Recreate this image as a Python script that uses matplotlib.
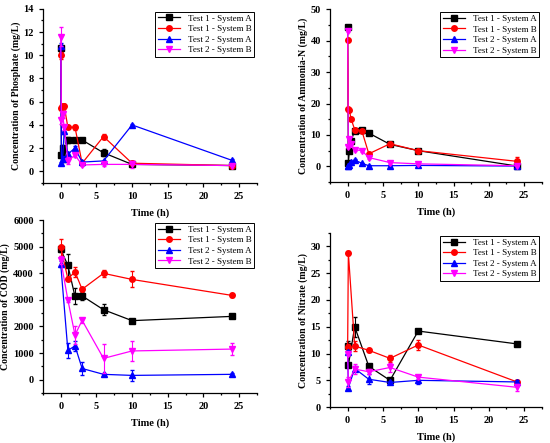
import matplotlib
matplotlib.use("Agg")
import matplotlib.pyplot as plt
from matplotlib.ticker import MultipleLocator

plt.rcParams['font.family'] = ['Liberation Serif', 'DejaVu Serif']

labels = ["Test 1 - System A", "Test 1 - System B", "Test 2 - System A", "Test 2 - System B"]
colors = ["black", "#ff0000", "#0000ff", "#ff00ff"]
markers = ["s", "o", "^", "v"]

# phosphate
t_p = [0, 0.1, 0.25, 0.5, 1, 2, 3, 6, 10, 24]
p_1a = [10.6, 1.4, 2.0, 1.1, 2.7, 2.7, 2.7, 1.6, 0.6, 0.5]
p_1b = [10.0, 5.5, 5.6, 5.6, 3.8, 3.8, 0.7, 3.0, 0.7, 0.5]
p_2a = [10.8, 0.7, 1.1, 3.5, 1.5, 2.0, 0.8, 0.9, 4.0, 0.95]
p_2b = [11.6, 4.4, 4.9, 3.8, 0.9, 1.4, 0.55, 0.6, 0.6, 0.5]
pe_1a = [0.3, 0.2, 0.3, 0.2, 0.3, 0.2, 0.1, 0.3, 0.1, 0.05]
pe_1b = [0.3, 0.2, 0.2, 0.2, 0.1, 0.2, 0.1, 0.2, 0.1, 0.05]
pe_2a = [0.3, 0.1, 0.2, 0.3, 0.2, 0.2, 0.1, 0.1, 0.1, 0.1]
pe_2b = [0.8, 0.3, 0.3, 0.2, 0.3, 0.2, 0.1, 0.1, 0.3, 0.05]

# ammonia
t_a = [0, 0.1, 0.25, 0.5, 1, 2, 3, 6, 10, 24]
a_1a = [44.3, 1.0, 5.0, 8.2, 11.4, 11.5, 10.6, 7.0, 5.0, 0.1]
a_1b = [40.3, 18.4, 17.8, 15.0, 11.7, 11.4, 4.0, 7.2, 5.0, 1.6]
a_2a = [0.1, 0.1, 0.5, 1.4, 2.0, 1.0, 0.2, 0.2, 0.3, 0.1]
a_2b = [43.2, 6.2, 8.7, 7.0, 5.3, 5.0, 2.8, 1.2, 0.8, 0.2]
ae_1a = [0.4, 0.2, 0.3, 0.4, 0.3, 0.3, 0.3, 0.3, 0.2, 0.1]
ae_1b = [0.4, 0.3, 0.3, 0.3, 0.3, 0.3, 0.3, 0.4, 0.2, 1.3]
ae_2a = [0.1, 0.1, 0.1, 0.2, 0.2, 0.2, 0.1, 0.1, 0.1, 0.1]
ae_2b = [0.4, 0.4, 0.4, 0.3, 0.3, 0.3, 0.3, 0.3, 0.3, 0.1]

# COD
t_c = [0, 1, 2, 3, 6, 10, 24]
c_1a = [4900, 4300, 3130, 3150, 2630, 2220, 2380]
c_1b = [4980, 3800, 4050, 3400, 4000, 3770, 3170]
c_2a = [4340, 1100, 1270, 420, 200, 160, 200]
c_2b = [4500, 3000, 1680, 2230, 800, 1080, 1150]
ce_1a = [100, 420, 300, 150, 200, 50, 50]
ce_1b = [330, 60, 170, 60, 120, 300, 50]
ce_2a = [120, 280, 200, 250, 50, 200, 50]
ce_2b = [150, 60, 350, 80, 540, 380, 230]

# nitrate
t_n = [0, 0.1, 1, 3, 6, 10, 24]
n_1a = [11.4, 7.8, 15.0, 7.6, 5.0, 14.2, 11.8]
n_1b = [11.3, 28.8, 11.4, 10.6, 9.1, 11.6, 4.7]
n_2a = [10.3, 3.6, 7.2, 5.2, 4.6, 5.0, 4.7]
n_2b = [10.0, 4.7, 7.1, 6.6, 7.4, 5.6, 3.7]
ne_1a = [0.9, 0.3, 1.9, 0.3, 0.2, 0.2, 0.2]
ne_1b = [0.4, 0.4, 1.0, 0.3, 0.6, 0.9, 0.2]
ne_2a = [0.3, 0.3, 0.4, 0.9, 0.3, 0.6, 0.3]
ne_2b = [0.3, 1.0, 0.9, 0.5, 0.8, 0.3, 0.6]

fig = plt.figure(figsize=(5.5, 4.43), dpi=100)

panels = [
    ([0.078, 0.587, 0.389, 0.393], t_p, [p_1a, p_1b, p_2a, p_2b], [pe_1a, pe_1b, pe_2a, pe_2b],
     "Concentration of Phosphate (mg/L)", (-1, 14), 2, 1),
    ([0.600, 0.589, 0.385, 0.390], t_a, [a_1a, a_1b, a_2a, a_2b], [ae_1a, ae_1b, ae_2a, ae_2b],
     "Concentration of Ammonia-N (mg/L)", (-5, 50), 10, 5),
    ([0.078, 0.113, 0.389, 0.390], t_c, [c_1a, c_1b, c_2a, c_2b], [ce_1a, ce_1b, ce_2a, ce_2b],
     "Concentration of COD (mg/L)", (-500, 6000), 1000, 500),
    ([0.600, 0.081, 0.385, 0.393], t_n, [n_1a, n_1b, n_2a, n_2b], [ne_1a, ne_1b, ne_2a, ne_2b],
     "Concentration of Nitrate (mg/L)", (0, 32.5), 5, 2.5),
]

for rect, t, series, errs, ylab, ylim, ymaj, ymin in panels:
    ax = fig.add_axes(rect)
    for y, e, lab, col, mk in zip(series, errs, labels, colors, markers):
        ax.errorbar(t, y, yerr=e, fmt='none', ecolor=col, elinewidth=0.8, capsize=1.5)
        ax.plot(t, y, color=col, marker=mk, markersize=4, lw=0.9, label=lab)
    ax.set_xlim(-2.5, 27.5)
    ax.set_ylim(*ylim)
    ax.xaxis.set_major_locator(MultipleLocator(5))
    ax.xaxis.set_minor_locator(MultipleLocator(2.5))
    ax.yaxis.set_major_locator(MultipleLocator(ymaj))
    ax.yaxis.set_minor_locator(MultipleLocator(ymin))
    ax.spines['top'].set_visible(False)
    ax.spines['right'].set_visible(False)
    for sp in ax.spines.values():
        sp.set_linewidth(0.9)
    ax.tick_params(which='both', direction='out', labelsize=7.5, width=0.9)
    ax.tick_params(which='major', length=3)
    ax.tick_params(which='minor', length=1.5)
    for lbl in ax.get_xticklabels() + ax.get_yticklabels():
        lbl.set_fontweight('bold')
    ax.set_xlabel("Time (h)", fontsize=7.5, fontweight='bold', labelpad=5)
    ax.set_ylabel(ylab, fontsize=7, fontweight='bold', labelpad=2)
    leg = ax.legend(loc='upper right', fontsize=6.5, fancybox=False, framealpha=1,
                    edgecolor='black', borderaxespad=0.3, handlelength=2.5,
                    labelspacing=0.25, borderpad=0.3)
    leg.get_frame().set_linewidth(0.7)

fig.savefig("out.png", dpi=100)
